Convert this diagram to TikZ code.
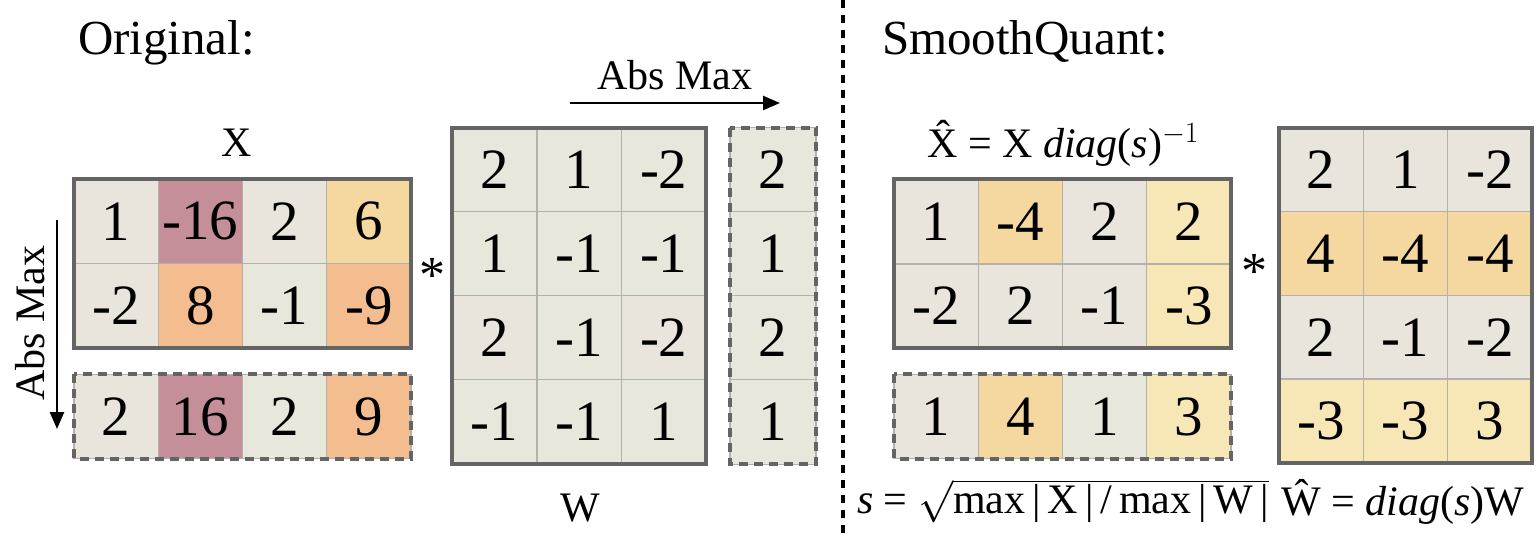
\RequirePackage{fix-cm}
\documentclass[tikz,border=0pt]{standalone}
\usepackage{fontspec}
\setmainfont{Liberation Serif}
\usepackage{amsmath}
\usetikzlibrary{arrows.meta}
\definecolor{cA}{HTML}{E9E4DC}
\definecolor{cG}{HTML}{E8E7DB}
\definecolor{cR}{HTML}{C58F99}
\definecolor{cP}{HTML}{F4BD8F}
\definecolor{cY}{HTML}{F5D8A0}
\definecolor{cL}{HTML}{F8E7B6}
\definecolor{gridc}{HTML}{B4B1AA}
\definecolor{framec}{HTML}{646464}
\begin{document}
\begin{tikzpicture}[x=1pt,y=-1pt,
  cellbox/.style={draw=gridc, line width=1.2pt, inner sep=0pt, outer sep=0pt,
    minimum width=84.25pt, minimum height=84.25pt, font=\fontsize{57}{60}\selectfont},
  solidframe/.style={draw=framec, line width=4pt},
  dashframe/.style={draw=framec, line width=4pt, dash pattern=on 9pt off 6pt},
  divider/.style={draw=black, line width=4.5pt, dash pattern=on 8pt off 7pt},
  arr/.style={draw=black, line width=2.5pt, -{Triangle[length=17pt,width=14pt]}},
  lbl/.style={inner sep=0pt, outer sep=0pt, font=\fontsize{42}{50}\selectfont},
  ttl/.style={inner sep=0pt, outer sep=0pt, font=\fontsize{49}{58}\selectfont},
  ast/.style={inner sep=0pt, outer sep=0pt, font=\fontsize{52}{60}\selectfont},
]
\useasboundingbox (0,0) rectangle (1537,540);

% titles
\node[ttl, anchor=base west] (orig) at (78,55) {Original:};
\node[ttl, anchor=base west] (sq) at (882,55) {SmoothQuant:};

% divider
\coordinate (d1) at (843,0);
\coordinate (d2) at (843,540);
\draw[divider] (d1) -- (d2);

% ---------- X ----------
\foreach \r/\c/\v/\f in {1/1/1/cA,1/2/-16/cR,1/3/2/cA,1/4/6/cY,
                         2/1/-2/cA,2/2/8/cP,2/3/-1/cG,2/4/-9/cP}
  \node[cellbox, fill=\f] (x\r\c) at ({74+(\c-0.5)*84.25},{179+(\r-0.5)*84.5}) {\v};
\draw[solidframe] (x11.north west) rectangle (x24.south east);
\foreach \c/\v/\f in {1/2/cA,2/16/cR,3/2/cG,4/9/cP}
  \node[cellbox, fill=\f] (xa\c) at ({74+(\c-0.5)*84.25},{374+0.5*85}) {\v};
\draw[dashframe] (xa1.north west) rectangle (xa4.south east);
\node[lbl, anchor=base] (xlab) at (237,157) {X};
\coordinate (av1) at (57,220);
\coordinate (av2) at (57,429);
\draw[arr] (av1) -- (av2);
\node[lbl, rotate=90] (absv) at (30,323) {Abs Max};
\node[ast, anchor=base] (st1) at (432,292) {*};

% ---------- W ----------
\foreach \r/\c/\v/\f in {1/1/2/cG,1/2/1/cG,1/3/-2/cG,
                         2/1/1/cG,2/2/-1/cG,2/3/-1/cG,
                         3/1/2/cA,3/2/-1/cG,3/3/-2/cA,
                         4/1/-1/cG,4/2/-1/cG,4/3/1/cG}
  \node[cellbox, fill=\f] (w\r\c) at ({452+(\c-0.5)*84.7},{128+(\r-0.5)*84}) {\v};
\draw[solidframe] (w11.north west) rectangle (w43.south east);
\foreach \r/\v in {1/2,2/1,3/2,4/1}
  \node[cellbox, fill=cG, minimum width=86pt] (wa\r) at (773,{128+(\r-0.5)*84}) {\v};
\draw[dashframe] (wa1.north west) rectangle (wa4.south east);
\node[lbl, anchor=base] (wlab) at (580,521) {W};
\coordinate (ah1) at (570,103);
\coordinate (ah2) at (780,103);
\draw[arr] (ah1) -- (ah2);
\node[lbl, anchor=base] (absh) at (675,90) {Abs Max};

% ---------- X hat ----------
\foreach \r/\c/\v/\f in {1/1/1/cA,1/2/-4/cY,1/3/2/cA,1/4/2/cL,
                         2/1/-2/cA,2/2/2/cA,2/3/-1/cA,2/4/-3/cL}
  \node[cellbox, fill=\f] (h\r\c) at ({894+(\c-0.5)*84.25},{179+(\r-0.5)*84.75}) {\v};
\draw[solidframe] (h11.north west) rectangle (h24.south east);
\foreach \c/\v/\f in {1/1/cA,2/4/cY,3/1/cG,4/3/cL}
  \node[cellbox, fill=\f] (ha\c) at ({894+(\c-0.5)*84.25},{374+0.5*85}) {\v};
\draw[dashframe] (ha1.north west) rectangle (ha4.south east);
\node[lbl, anchor=base] (hform) at (1063,158) {\^{X} = X \textit{diag}(\textit{s})$^{-1}$};
\node[lbl, anchor=base west] (sform) at (857,513) {\textit{s} = $\sqrt{\text{max\,|\,X\,|\,/\,max\,|\,W\,|}}$};
\node[ast, anchor=base] (st2) at (1254,288) {*};

% ---------- W hat ----------
\foreach \r/\c/\v/\f in {1/1/2/cA,1/2/1/cA,1/3/-2/cA,
                         2/1/4/cY,2/2/-4/cY,2/3/-4/cY,
                         3/1/2/cA,3/2/-1/cA,3/3/-2/cA,
                         4/1/-3/cL,4/2/-3/cL,4/3/3/cL}
  \node[cellbox, fill=\f] (v\r\c) at ({1279+(\c-0.5)*84.3},{128+(\r-0.5)*83.75}) {\v};
\draw[solidframe] (v11.north west) rectangle (v43.south east);
\node[lbl, anchor=base] (vform) at (1403,515) {\^{W} = \textit{diag}(\textit{s})W};
\end{tikzpicture}
\end{document}
